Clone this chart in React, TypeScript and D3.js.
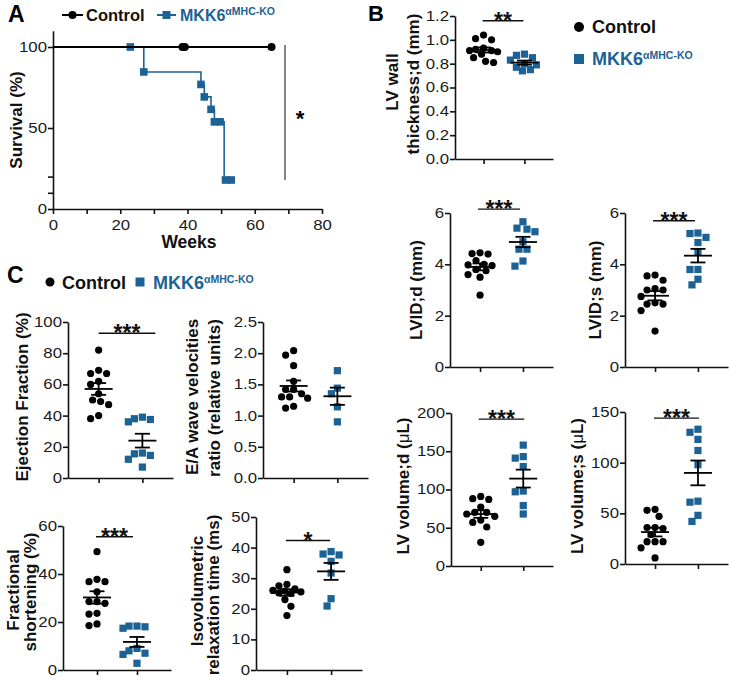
import React, { useEffect, useRef } from 'react';
import * as d3 from 'd3';

const BLUE = '#1c6294';
const FONT = "'Liberation Sans', Arial, Helvetica, sans-serif";
const groups = ['Control', 'MKK6'];

// ---------- Panel A: survival ----------
const survivalXTicks = [0, 10, 20, 30, 40, 50, 60, 70, 80];
const survivalXLabels = [0, 20, 40, 60, 80];
const survivalYTicks = [0, 10, 20, 50, 100];
const survivalYLabels = [0, 50, 100];
const controlCensorWeeks = [38.5, 39.2, 65];
const controlEndWeek = 65;
const koEventWeeks = [27, 44, 45, 47, 48, 50.9];
const koEventSurvival = [84.6, 76.9, 69.2, 61.5, 53.8, 17.9];
const koMarkWeeks = [23, 27, 44, 45, 47, 48, 49.7, 51.3, 53];
const koEndWeek = 53;

// ---------- Panel B ----------
const lvWallCtrl = [1.04, 1.01, 1.0, 0.93, 0.92, 0.91, 0.91, 0.9, 0.88, 0.85, 0.82, 0.81];
const lvWallKo = [0.88, 0.87, 0.85, 0.83, 0.8, 0.79, 0.77, 0.75, 0.74];
const lvWallTicks = [0, 0.2, 0.4, 0.6, 0.8, 1.0, 1.2];

const lviddCtrl = [4.45, 4.42, 4.4, 4.15, 4.0, 3.98, 3.95, 3.8, 3.75, 3.6, 3.5, 2.8];
const lviddKo = [5.66, 5.41, 5.37, 5.27, 4.88, 4.59, 4.59, 4.13, 3.93];
const lvidsCtrl = [3.58, 3.55, 3.38, 3.05, 3.0, 3.0, 2.75, 2.5, 2.45, 2.45, 2.2, 1.4];
const lvidsKo = [5.22, 5.2, 5.05, 4.85, 4.5, 3.8, 3.8, 3.42, 3.2];
const lvidTicks = [0, 2, 4, 6];

const lvVolDCtrl = [91, 88, 87, 77, 70, 70, 68, 65, 60, 57, 51, 31];
const lvVolDKo = [158, 143, 141, 130, 98, 97, 79, 68];
const lvVolDTicks = [0, 50, 100, 150, 200];
const lvVolSCtrl = [54, 53, 47, 36, 36, 35, 29, 22, 22, 22, 16, 6];
const lvVolSKo = [133, 130, 123, 112, 98, 62, 61, 48, 42];
const lvVolSTicks = [0, 50, 100, 150];

// ---------- Panel C ----------
const efCtrl = [82, 69, 67, 67, 62, 60, 54, 50, 49, 47, 40, 38];
const efKo = [39, 38, 37.5, 36, 16, 15.5, 14.5, 12, 7];
const efTicks = [0, 20, 40, 60, 80, 100];
const eaCtrl = [2.04, 1.97, 1.8, 1.55, 1.42, 1.42, 1.35, 1.3, 1.3, 1.28, 1.15, 1.12];
const eaKo = [1.72, 1.44, 1.35, 1.14, 0.9];
const eaTicks = [0, 0.5, 1.0, 1.5, 2.0, 2.5];
const fsCtrl = [49.3, 37.8, 36.8, 36.8, 32.6, 28.5, 28.5, 27.8, 23.6, 23.3, 19.2, 18.5];
const fsKo = [18.3, 18.3, 18, 17.4, 9, 8, 7, 6.5, 2.8];
const fsTicks = [0, 20, 40, 60];
const ivrtCtrl = [32.8, 28, 27.5, 26.5, 26, 25.8, 25.5, 25.2, 25, 23, 20.8, 17.8];
const ivrtKo = [38.7, 37.9, 37.6, 35.5, 31.7, 23.3, 20.9];
const ivrtTicks = [0, 10, 20, 30, 40, 50];

type Panel = {
  ctrl: number[]; ko: number[]; domain: [number, number]; ticks: number[]; fmt: string;
  x0: number; x1: number; pad: number; yBot: number; yTop: number;
  sig?: string; sigVal?: number; sigL?: number; sigR?: number;
  labels: { text: string; cx: number; cy: number }[];
};

const panels: Panel[] = [
  { ctrl: lvWallCtrl, ko: lvWallKo, domain: [0, 1.2], ticks: lvWallTicks, fmt: '.1f', x0: 455, x1: 553, pad: 0.7, yBot: 159, yTop: 16,
    sig: '**', sigVal: 1.16, sigL: -1, sigR: -1,
    labels: [{ text: 'LV wall', cx: 392, cy: 82 }, { text: 'thickness;d (mm)', cx: 413, cy: 84 }] },
  { ctrl: lviddCtrl, ko: lviddKo, domain: [0, 6], ticks: lvidTicks, fmt: 'd', x0: 450, x1: 553, pad: 0.7, yBot: 367, yTop: 213,
    sig: '***', sigVal: 6.15, sigL: -2, sigR: -3,
    labels: [{ text: 'LVID;d (mm)', cx: 416, cy: 290 }] },
  { ctrl: lvidsCtrl, ko: lvidsKo, domain: [0, 6], ticks: lvidTicks, fmt: 'd', x0: 625, x1: 728, pad: 0.7, yBot: 367, yTop: 213,
    sig: '***', sigVal: 5.7, sigL: -2, sigR: -3,
    labels: [{ text: 'LVID;s (mm)', cx: 595, cy: 290 }] },
  { ctrl: lvVolDCtrl, ko: lvVolDKo, domain: [0, 200], ticks: lvVolDTicks, fmt: 'd', x0: 451, x1: 553, pad: 0.7, yBot: 566, yTop: 413,
    sig: '***', sigVal: 192, sigL: -2, sigR: 1,
    labels: [{ text: 'LV volume;d (μL)', cx: 403, cy: 486 }] },
  { ctrl: lvVolSCtrl, ko: lvVolSKo, domain: [0, 150], ticks: lvVolSTicks, fmt: 'd', x0: 625, x1: 728, pad: 0.7, yBot: 564, yTop: 412,
    sig: '***', sigVal: 144, sigL: -1, sigR: 1,
    labels: [{ text: 'LV volume;s (μL)', cx: 577, cy: 486 }] },
  { ctrl: efCtrl, ko: efKo, domain: [0, 100], ticks: efTicks, fmt: 'd', x0: 68, x1: 173, pad: 0.7, yBot: 478, yTop: 322,
    sig: '***', sigVal: 92.8, sigL: 0, sigR: 13,
    labels: [{ text: 'Ejection Fraction (%)', cx: 22, cy: 397 }] },
  { ctrl: eaCtrl, ko: eaKo, domain: [0, 2.5], ticks: eaTicks, fmt: '.1f', x0: 263, x1: 368, pad: 0.7, yBot: 478, yTop: 322,
    labels: [{ text: 'E/A wave velocities', cx: 192, cy: 397 }, { text: 'ratio (relative units)', cx: 214, cy: 398 }] },
  { ctrl: fsCtrl, ko: fsKo, domain: [0, 60], ticks: fsTicks, fmt: 'd', x0: 63, x1: 171, pad: 0.85, yBot: 670, yTop: 526,
    sig: '***', sigVal: 55.5, sigL: -1, sigR: -4,
    labels: [{ text: 'Fractional', cx: 13, cy: 590 }, { text: 'shortening (%)', cx: 30, cy: 592 }] },
  { ctrl: ivrtCtrl, ko: ivrtKo, domain: [0, 50], ticks: ivrtTicks, fmt: 'd', x0: 256, x1: 362, pad: 0.7, yBot: 670, yTop: 517,
    sig: '*', sigVal: 42.3, sigL: -1, sigR: -1,
    labels: [{ text: 'Isovolumetric', cx: 197, cy: 591 }, { text: 'relaxation time (ms)', cx: 213, cy: 595 }] },
];

function styleAxis(a: any, stretch = true) {
  a.attr('font-family', FONT).attr('font-size', 14);
  a.select('.domain').attr('stroke', '#111').attr('stroke-width', 1.6);
  a.selectAll('.tick line').attr('stroke', '#111').attr('stroke-width', 1.6);
  a.selectAll('.tick text').attr('fill', '#1a1a1a');
  if (stretch) {
    a.selectAll('.tick text').each(function (this: any) {
      const t = d3.select(this);
      const xx = +(t.attr('x') || 0);
      t.attr('x', 0).attr('transform', `translate(${xx},0) scale(1.2,1)`);
    });
  }
}

// simple beeswarm: offsets limited to +-maxOff; if no free slot, pick the least crowded one
function swarm(values: number[], y: (v: number) => number, minDist = 8, step = 2, maxOff = 14) {
  const order = d3.range(values.length).sort((a, b) => values[b] - values[a]);
  const placed: { x: number; y: number }[] = [];
  const offsets: number[] = new Array(values.length).fill(0);
  for (const i of order) {
    const py = y(values[i]);
    let best = 0, bestScore = -1, found = false;
    for (let k = 0; ; k++) {
      const m = Math.ceil(k / 2) * step;
      if (m > maxOff) break;
      const cand = k === 0 ? 0 : k % 2 === 1 ? -m : m;
      const dmin = placed.length ? d3.min(placed, p => Math.hypot(p.x - cand, p.y - py))! : Infinity;
      if (dmin >= minDist) { best = cand; found = true; break; }
      if (dmin > bestScore) { bestScore = dmin; best = cand; }
    }
    offsets[i] = best;
    placed.push({ x: best, y: py });
    void found;
  }
  return offsets;
}

function rotLabel(g: any, text: string, cx: number, cy: number) {
  const t = g.append('text')
    .attr('transform', `translate(${cx},${cy}) rotate(-90)`)
    .attr('text-anchor', 'middle').attr('dy', '0.35em')
    .attr('font-size', 17).attr('font-weight', 'bold').attr('fill', '#111');
  if (text.includes('μ')) {
    const [a, b] = text.split('μ');
    t.append('tspan').text(a);
    t.append('tspan').attr('font-weight', 'normal').text('μ');
    t.append('tspan').text(b);
  } else t.text(text);
}

function drawScatter(svg: any, p: Panel) {
  const g = svg.append('g');
  const x = d3.scalePoint<string>().domain(groups).range([p.x0, p.x1]).padding(p.pad);
  const y = d3.scaleLinear().domain(p.domain).range([p.yBot, p.yTop]);
  const ya = g.append('g').attr('transform', `translate(${p.x0},0)`)
    .call(d3.axisLeft(y).tickValues(p.ticks).tickFormat(d3.format(p.fmt) as any).tickSize(5).tickSizeOuter(0).tickPadding(1));
  styleAxis(ya);
  const xa = g.append('g').attr('transform', `translate(0,${p.yBot})`)
    .call(d3.axisBottom(x).tickSize(5).tickSizeOuter(0).tickFormat(() => ''));
  styleAxis(xa, false);

  const cx0 = x('Control')!;
  const cx1 = x('MKK6')!;
  const offC = swarm(p.ctrl, y);
  const offK = swarm(p.ko, y);
  g.append('g').selectAll('circle').data(p.ctrl).join('circle')
    .attr('cx', (d: number, i: number) => cx0 + offC[i]).attr('cy', (d: number) => y(d)).attr('r', 3.6).attr('fill', '#000');
  g.append('g').selectAll('rect').data(p.ko).join('rect')
    .attr('x', (d: number, i: number) => cx1 + offK[i] - 3.6).attr('y', (d: number) => y(d) - 3.6)
    .attr('width', 7.2).attr('height', 7.2).attr('fill', BLUE);

  [[p.ctrl, cx0], [p.ko, cx1]].forEach(([vals, cx]: any) => {
    const m = d3.mean(vals as number[])!;
    const sem = d3.deviation(vals as number[])! / Math.sqrt(vals.length);
    const lg = g.append('g').attr('stroke', '#000').attr('stroke-width', 1.8).attr('fill', 'none');
    lg.append('line').attr('x1', cx - 14).attr('x2', cx + 14).attr('y1', y(m)).attr('y2', y(m));
    lg.append('line').attr('x1', cx).attr('x2', cx).attr('y1', y(m - sem)).attr('y2', y(m + sem));
    lg.append('line').attr('x1', cx - 7.5).attr('x2', cx + 7.5).attr('y1', y(m - sem)).attr('y2', y(m - sem));
    lg.append('line').attr('x1', cx - 7.5).attr('x2', cx + 7.5).attr('y1', y(m + sem)).attr('y2', y(m + sem));
  });

  if (p.sig) {
    const sy = y(p.sigVal!);
    const xl = cx0 + p.sigL!;
    const xr = cx1 + p.sigR!;
    g.append('line').attr('x1', xl).attr('x2', xr).attr('y1', sy).attr('y2', sy).attr('stroke', '#111').attr('stroke-width', 1.4);
    g.append('text').attr('x', (xl + xr) / 2).attr('y', sy + 8).attr('text-anchor', 'middle')
      .attr('font-size', 23).attr('font-weight', 'bold').attr('fill', '#111').text(p.sig);
  }
  p.labels.forEach(l => rotLabel(g, l.text, l.cx, l.cy));
}

function survAt(t: number) {
  let s = 100;
  koEventWeeks.forEach((w, i) => { if (w <= t) s = koEventSurvival[i]; });
  return s;
}

function drawPanelA(svg: any) {
  const g = svg.append('g');
  const x = d3.scaleLinear().domain([0, 80]).range([53, 322]);
  const y = d3.scaleLinear().domain([0, 110]).range([209, 30.8]);
  const ya = g.append('g').attr('transform', `translate(${x(0)},0)`)
    .call(d3.axisLeft(y).tickValues(survivalYTicks)
      .tickFormat((d: any) => (survivalYLabels.includes(d) ? String(d) : '')).tickSize(5).tickSizeOuter(0).tickPadding(1));
  styleAxis(ya);
  const xa = g.append('g').attr('transform', `translate(0,${y(0)})`)
    .call(d3.axisBottom(x).tickValues(survivalXTicks)
      .tickFormat((d: any) => (survivalXLabels.includes(d) ? String(d) : '')).tickSize(5).tickSizeOuter(0).tickPadding(6));
  styleAxis(xa);

  const koPts: [number, number][] = [[0, 100]];
  koEventWeeks.forEach((w, i) => koPts.push([w, koEventSurvival[i]]));
  koPts.push([koEndWeek, koEventSurvival[koEventSurvival.length - 1]]);
  const line = d3.line<[number, number]>().x(d => x(d[0])).y(d => y(d[1])).curve(d3.curveStepAfter);
  g.append('path').attr('d', line(koPts)).attr('fill', 'none').attr('stroke', BLUE).attr('stroke-width', 1.6);
  g.append('g').selectAll('rect').data(koMarkWeeks).join('rect')
    .attr('x', (d: number) => x(d) - 3.8).attr('y', (d: number) => y(survAt(d)) - 3.8)
    .attr('width', 7.6).attr('height', 7.6).attr('fill', BLUE);

  const ctrlPts: [number, number][] = [[0, 100], [controlEndWeek, 100]];
  g.append('path').attr('d', d3.line<[number, number]>().x(d => x(d[0])).y(d => y(d[1]))(ctrlPts))
    .attr('fill', 'none').attr('stroke', '#000').attr('stroke-width', 1.8);
  g.append('g').selectAll('circle').data(controlCensorWeeks).join('circle')
    .attr('cx', (d: number) => x(d)).attr('cy', y(100)).attr('r', 4).attr('fill', '#000');

  // significance
  g.append('line').attr('x1', 285).attr('x2', 285).attr('y1', y(100) - 2).attr('y2', y(17.9)).attr('stroke', '#333').attr('stroke-width', 1.2);
  g.append('text').attr('x', 300).attr('y', 126).attr('text-anchor', 'middle').attr('font-size', 22).attr('font-weight', 'bold').text('*');

  rotLabel(g, 'Survival (%)', 16, 120);
  g.append('text').attr('x', 189).attr('y', 248).attr('text-anchor', 'middle').attr('font-size', 17.5).attr('font-weight', 'bold').attr('fill', '#111').text('Weeks');
}

function mkk(g: any, x: number, y: number, size: number, supSize: number, supDy: number) {
  const t = g.append('text').attr('x', x).attr('y', y).attr('fill', BLUE).attr('font-weight', 'bold').attr('font-size', size);
  t.append('tspan').text('MKK6');
  t.append('tspan').attr('dy', supDy).attr('font-size', supSize).text('αMHC-KO');
}

function drawLegends(svg: any) {
  const g = svg.append('g').attr('font-family', FONT);
  // panel letters
  g.append('text').attr('x', 8).attr('y', 22).attr('font-size', 23).attr('font-weight', 'bold').text('A');
  g.append('text').attr('x', 368).attr('y', 21).attr('font-size', 22).attr('font-weight', 'bold').text('B');
  g.append('text').attr('x', 7).attr('y', 283).attr('font-size', 23).attr('font-weight', 'bold').text('C');

  // legend A
  g.append('line').attr('x1', 62).attr('x2', 83).attr('y1', 15).attr('y2', 15).attr('stroke', '#000').attr('stroke-width', 2);
  g.append('circle').attr('cx', 72.5).attr('cy', 15).attr('r', 4).attr('fill', '#000');
  g.append('text').attr('x', 86).attr('y', 21).attr('font-size', 16.5).attr('font-weight', 'bold').attr('fill', '#111').text('Control');
  g.append('line').attr('x1', 157).attr('x2', 176).attr('y1', 15).attr('y2', 15).attr('stroke', BLUE).attr('stroke-width', 2);
  g.append('rect').attr('x', 162.5).attr('y', 11).attr('width', 8).attr('height', 8).attr('fill', BLUE);
  mkk(g, 180, 21, 16, 10.5, -6);

  // legend B
  g.append('circle').attr('cx', 579).attr('cy', 27).attr('r', 5).attr('fill', '#000');
  g.append('text').attr('x', 592).attr('y', 33).attr('font-size', 18).attr('font-weight', 'bold').attr('fill', '#111').text('Control');
  g.append('rect').attr('x', 574).attr('y', 54).attr('width', 10).attr('height', 10).attr('fill', BLUE);
  mkk(g, 592, 64.5, 18, 10.5, -5.5);

  // legend C
  g.append('circle').attr('cx', 50).attr('cy', 282).attr('r', 4.5).attr('fill', '#000');
  g.append('text').attr('x', 62).attr('y', 288.5).attr('font-size', 18).attr('font-weight', 'bold').attr('fill', '#111').text('Control');
  g.append('rect').attr('x', 135.5).attr('y', 277.5).attr('width', 9).attr('height', 9).attr('fill', BLUE);
  mkk(g, 153, 288.5, 18, 10.5, -6);
}

export default function App() {
  const ref = useRef<SVGSVGElement>(null);
  useEffect(() => {
    const svg = d3.select(ref.current);
    svg.selectAll('*').remove();
    svg.attr('font-family', FONT);
    drawPanelA(svg);
    panels.forEach(p => drawScatter(svg, p));
    drawLegends(svg);
  }, []);
  return (
    <svg ref={ref} width={729} height={677}
      style={{ position: 'absolute', left: 0, top: 0, background: '#fff', fontFamily: FONT }} />
  );
}
